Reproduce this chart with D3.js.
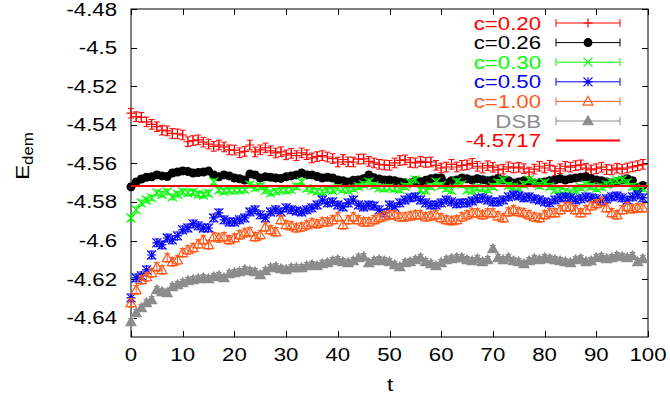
<!DOCTYPE html>
<html>
<head>
<meta charset="utf-8">
<script src="https://cdn.jsdelivr.net/npm/d3@7"></script>
<style>
  html, body { margin: 0; padding: 0; background: #fff; }
  svg { display: block; }
  text { font-family: "Liberation Sans", Arial, Helvetica, sans-serif; }
</style>
</head>
<body>
<svg id="chart" width="670" height="400"></svg>
<script>
// ---------------- data ----------------
const tValues = d3.range(0, 100); // t = 0..99

const c020 = [
 -4.5340,-4.5358,-4.5362,-4.5385,-4.5398,-4.5410,-4.5428,-4.5432,-4.5445,-4.5447,
 -4.5453,-4.5488,-4.5482,-4.5478,-4.5490,-4.5500,-4.5512,-4.5505,-4.5515,-4.5530,
 -4.5531,-4.5545,-4.5538,-4.5505,-4.5541,-4.5530,-4.5520,-4.5535,-4.5546,-4.5540,
 -4.5556,-4.5548,-4.5560,-4.5546,-4.5555,-4.5572,-4.5565,-4.5560,-4.5567,-4.5575,
 -4.5593,-4.5580,-4.5592,-4.5593,-4.5578,-4.5577,-4.5590,-4.5598,-4.5605,-4.5608,
 -4.5610,-4.5598,-4.5585,-4.5582,-4.5595,-4.5598,-4.5590,-4.5595,-4.5593,-4.5610,
 -4.5624,-4.5619,-4.5605,-4.5619,-4.5610,-4.5608,-4.5600,-4.5615,-4.5624,-4.5612,
 -4.5620,-4.5634,-4.5630,-4.5618,-4.5624,-4.5620,-4.5628,-4.5645,-4.5630,-4.5615,
 -4.5624,-4.5610,-4.5640,-4.5628,-4.5615,-4.5620,-4.5612,-4.5608,-4.5625,-4.5634,
 -4.5628,-4.5620,-4.5632,-4.5634,-4.5625,-4.5630,-4.5624,-4.5618,-4.5612,-4.5605
];
const c026 = [
 -4.5722,-4.5696,-4.5681,-4.5672,-4.5670,-4.5660,-4.5665,-4.5668,-4.5650,-4.5645,
 -4.5639,-4.5642,-4.5650,-4.5648,-4.5645,-4.5640,-4.5660,-4.5670,-4.5660,-4.5665,
 -4.5676,-4.5680,-4.5686,-4.5655,-4.5660,-4.5676,-4.5670,-4.5672,-4.5676,-4.5678,
 -4.5670,-4.5665,-4.5660,-4.5650,-4.5660,-4.5660,-4.5668,-4.5676,-4.5672,-4.5676,
 -4.5686,-4.5690,-4.5696,-4.5688,-4.5686,-4.5680,-4.5660,-4.5675,-4.5681,-4.5686,
 -4.5686,-4.5690,-4.5696,-4.5700,-4.5702,-4.5690,-4.5695,-4.5688,-4.5680,-4.5676,
 -4.5676,-4.5702,-4.5690,-4.5686,-4.5676,-4.5680,-4.5686,-4.5680,-4.5685,-4.5690,
 -4.5686,-4.5680,-4.5686,-4.5690,-4.5702,-4.5696,-4.5690,-4.5696,-4.5702,-4.5700,
 -4.5696,-4.5690,-4.5686,-4.5680,-4.5686,-4.5680,-4.5676,-4.5672,-4.5670,-4.5680,
 -4.5686,-4.5690,-4.5696,-4.5702,-4.5696,-4.5686,-4.5680,-4.5690,-4.5727,-4.5715
];
const c030 = [
 -4.5883,-4.5841,-4.5805,-4.5790,-4.5779,-4.5753,-4.5760,-4.5748,-4.5774,-4.5760,
 -4.5748,-4.5753,-4.5750,-4.5760,-4.5764,-4.5755,-4.5696,-4.5738,-4.5745,-4.5738,
 -4.5740,-4.5738,-4.5735,-4.5712,-4.5727,-4.5720,-4.5740,-4.5753,-4.5745,-4.5738,
 -4.5740,-4.5735,-4.5720,-4.5696,-4.5730,-4.5738,-4.5745,-4.5748,-4.5738,-4.5740,
 -4.5727,-4.5735,-4.5740,-4.5730,-4.5720,-4.5710,-4.5696,-4.5715,-4.5727,-4.5730,
 -4.5727,-4.5730,-4.5735,-4.5720,-4.5700,-4.5686,-4.5738,-4.5740,-4.5720,-4.5696,
 -4.5715,-4.5730,-4.5740,-4.5696,-4.5710,-4.5738,-4.5740,-4.5727,-4.5730,-4.5735,
 -4.5720,-4.5700,-4.5686,-4.5715,-4.5722,-4.5727,-4.5710,-4.5686,-4.5700,-4.5715,
 -4.5702,-4.5720,-4.5738,-4.5740,-4.5745,-4.5753,-4.5740,-4.5725,-4.5712,-4.5720,
 -4.5730,-4.5722,-4.5710,-4.5700,-4.5690,-4.5686,-4.5700,-4.5720,-4.5738,-4.5730
];
const c050 = [
 -4.6297,-4.6194,-4.6183,-4.6152,-4.6075,-4.6012,-4.6023,-4.5987,-4.5997,-4.5976,
 -4.5945,-4.5935,-4.5914,-4.5924,-4.5935,-4.5935,-4.5883,-4.5857,-4.5893,-4.5904,
 -4.5904,-4.5893,-4.5883,-4.5852,-4.5841,-4.5867,-4.5883,-4.5852,-4.5841,-4.5852,
 -4.5831,-4.5841,-4.5847,-4.5852,-4.5841,-4.5831,-4.5816,-4.5790,-4.5805,-4.5800,
 -4.5816,-4.5826,-4.5805,-4.5790,-4.5816,-4.5826,-4.5816,-4.5821,-4.5841,-4.5857,
 -4.5816,-4.5826,-4.5805,-4.5790,-4.5779,-4.5774,-4.5790,-4.5805,-4.5816,-4.5816,
 -4.5805,-4.5790,-4.5800,-4.5810,-4.5805,-4.5805,-4.5795,-4.5784,-4.5779,-4.5790,
 -4.5800,-4.5800,-4.5790,-4.5774,-4.5764,-4.5769,-4.5779,-4.5774,-4.5784,-4.5790,
 -4.5800,-4.5805,-4.5790,-4.5779,-4.5774,-4.5779,-4.5790,-4.5784,-4.5774,-4.5779,
 -4.5784,-4.5795,-4.5784,-4.5774,-4.5769,-4.5779,-4.5790,-4.5774,-4.5764,-4.5779
];
const c100 = [
 -4.6323,-4.6256,-4.6204,-4.6189,-4.6168,-4.6137,-4.6152,-4.6090,-4.6111,-4.6101,
 -4.6064,-4.6049,-4.6038,-4.6018,-4.5997,-4.6023,-4.5981,-4.5987,-4.5981,-4.5997,
 -4.5987,-4.5971,-4.5961,-4.5955,-4.5981,-4.5971,-4.5930,-4.5945,-4.5955,-4.5893,
 -4.5919,-4.5924,-4.5935,-4.5930,-4.5919,-4.5909,-4.5914,-4.5904,-4.5904,-4.5893,
 -4.5878,-4.5919,-4.5893,-4.5878,-4.5893,-4.5904,-4.5904,-4.5893,-4.5883,-4.5873,
 -4.5867,-4.5867,-4.5878,-4.5878,-4.5873,-4.5867,-4.5867,-4.5878,-4.5873,-4.5867,
 -4.5883,-4.5893,-4.5898,-4.5893,-4.5878,-4.5867,-4.5857,-4.5857,-4.5867,-4.5857,
 -4.5857,-4.5873,-4.5883,-4.5852,-4.5841,-4.5852,-4.5857,-4.5867,-4.5878,-4.5883,
 -4.5867,-4.5857,-4.5857,-4.5841,-4.5826,-4.5826,-4.5841,-4.5857,-4.5841,-4.5821,
 -4.5810,-4.5800,-4.5831,-4.5857,-4.5867,-4.5841,-4.5826,-4.5836,-4.5831,-4.5831
];
const dsb = [
 -4.6422,-4.6375,-4.6349,-4.6323,-4.6308,-4.6256,-4.6266,-4.6271,-4.6240,-4.6230,
 -4.6220,-4.6209,-4.6204,-4.6199,-4.6194,-4.6199,-4.6189,-4.6183,-4.6194,-4.6173,
 -4.6168,-4.6163,-4.6152,-4.6158,-4.6163,-4.6178,-4.6158,-4.6142,-4.6137,-4.6147,
 -4.6152,-4.6142,-4.6142,-4.6142,-4.6132,-4.6126,-4.6132,-4.6121,-4.6116,-4.6106,
 -4.6101,-4.6111,-4.6116,-4.6106,-4.6090,-4.6085,-4.6116,-4.6106,-4.6101,-4.6106,
 -4.6111,-4.6126,-4.6137,-4.6116,-4.6111,-4.6101,-4.6090,-4.6111,-4.6121,-4.6132,
 -4.6116,-4.6101,-4.6095,-4.6090,-4.6090,-4.6101,-4.6106,-4.6095,-4.6111,-4.6101,
 -4.6044,-4.6090,-4.6101,-4.6090,-4.6106,-4.6111,-4.6121,-4.6106,-4.6095,-4.6101,
 -4.6090,-4.6095,-4.6101,-4.6106,-4.6111,-4.6116,-4.6101,-4.6095,-4.6111,-4.6106,
 -4.6090,-4.6085,-4.6095,-4.6090,-4.6080,-4.6085,-4.6090,-4.6080,-4.6111,-4.6095
];

// one error estimate per series (energy units)
const seriesErrors = [0.0025, 0.0015, 0.0015, 0.0020, 0.0022, 0.0018];
const seriesLabels = ["c=0.20", "c=0.26", "c=0.30", "c=0.50", "c=1.00", "DSB"];
const seriesColors = ["#ff0000", "#000000", "#00ff00", "#0000ff", "#ff5a1a", "#8c8c8c"];
const seriesMarkers = ["plus", "circle", "cross", "star", "triangle", "filledTriangle"];
const seriesValues = [c020, c026, c030, c050, c100, dsb];

const fitValue = -4.5717;
const fitLabel = "-4.5717";
const fitColor = "#ff0000";

const xTicks = [0, 10, 20, 30, 40, 50, 60, 70, 80, 90, 100];
const yTicks = [-4.48, -4.50, -4.52, -4.54, -4.56, -4.58, -4.60, -4.62, -4.64];
const yTickLabels = ["-4.48", "-4.5", "-4.52", "-4.54", "-4.56", "-4.58", "-4.6", "-4.62", "-4.64"];
const xDomain = [0, 100];
const yDomain = [-4.65, -4.48];

// ---------------- layout ----------------
const L = 131, R = 648, T = 9, B = 337;
const STRETCH = 1.2;
const FONT = 18.5;

const svg = d3.select("#chart");
const x = d3.scaleLinear().domain(xDomain).range([L, R]);
const y = d3.scaleLinear().domain(yDomain).range([B, T]);

function stretchedText(g, tx, ty, str, opts = {}) {
  return g.append("text")
    .attr("transform", `translate(${tx},${ty}) scale(${STRETCH},1)`)
    .attr("font-size", opts.size || FONT)
    .attr("fill", opts.fill || "#000")
    .attr("text-anchor", opts.anchor || "start")
    .text(str);
}

// markers
const S = 4.5;
function markerPath(type) {
  const s = S;
  switch (type) {
    case "plus": return `M${-s},0H${s}M0,${-s}V${s}`;
    case "cross": return `M${-s},${-s}L${s},${s}M${-s},${s}L${s},${-s}`;
    case "star": return `M${-s},0H${s}M0,${-s}V${s}M${-s},${-s}L${s},${s}M${-s},${s}L${s},${-s}`;
    case "triangle":
    case "filledTriangle": {
      const h = 5;
      return `M0,${-h}L${h},${h * 0.75}L${-h},${h * 0.75}Z`;
    }
    default: return "";
  }
}
function drawMarker(g, type, cx, cy, color) {
  if (type === "circle") {
    g.append("circle").attr("cx", cx).attr("cy", cy).attr("r", 4.5).attr("fill", color);
  } else {
    const filled = type === "filledTriangle";
    g.append("path").attr("transform", `translate(${cx},${cy})`)
      .attr("d", markerPath(type))
      .attr("fill", filled ? color : "none")
      .attr("stroke", color).attr("stroke-width", 1.2);
  }
}

// ---------------- axes / frame ----------------
const axes = svg.append("g");
axes.append("rect").attr("x", L).attr("y", T).attr("width", R - L).attr("height", B - T)
  .attr("fill", "none").attr("stroke", "#000").attr("stroke-width", 1);

const tickLen = 6;
xTicks.forEach(v => {
  const px = Math.round(x(v)) + 0.5;
  axes.append("line").attr("x1", px).attr("x2", px).attr("y1", B).attr("y2", B - tickLen).attr("stroke", "#000");
  axes.append("line").attr("x1", px).attr("x2", px).attr("y1", T).attr("y2", T + tickLen).attr("stroke", "#000");
  stretchedText(axes, x(v), 361, String(v), { anchor: "middle" });
});
yTicks.forEach((v, i) => {
  const py = Math.round(y(v)) + 0.5;
  axes.append("line").attr("x1", L).attr("x2", L + tickLen).attr("y1", py).attr("y2", py).attr("stroke", "#000");
  axes.append("line").attr("x1", R).attr("x2", R - tickLen).attr("y1", py).attr("y2", py).attr("stroke", "#000");
  stretchedText(axes, 117, y(v) + 6.5, yTickLabels[i], { anchor: "end" });
});

// axis titles
stretchedText(axes, 390, 391, "t", { anchor: "middle" });
const yl = axes.append("text")
  .attr("transform", `translate(29,156) rotate(-90) scale(${STRETCH},1)`)
  .attr("font-size", FONT).attr("text-anchor", "middle");
yl.append("tspan").text("E");
yl.append("tspan").attr("font-size", 14).attr("dy", 4).text("dem");

// ---------------- series ----------------
const plot = svg.append("g");
seriesValues.forEach((vals, si) => {
  const g = plot.append("g");
  const color = seriesColors[si];
  const err = seriesErrors[si];
  vals.forEach((v, i) => {
    const cx = x(tValues[i]);
    const y1 = y(v - err), y2 = y(v + err);
    g.append("path")
      .attr("d", `M${cx},${y1}V${y2}M${cx - 3},${y1}H${cx + 3}M${cx - 3},${y2}H${cx + 3}`)
      .attr("stroke", color).attr("stroke-width", 1).attr("fill", "none");
    drawMarker(g, seriesMarkers[si], cx, y(v), color);
  });
});

// fit line
plot.append("line")
  .attr("x1", x(xDomain[0])).attr("x2", x(xDomain[1]))
  .attr("y1", y(fitValue)).attr("y2", y(fitValue))
  .attr("stroke", fitColor).attr("stroke-width", 2);

// ---------------- legend ----------------
const legend = svg.append("g");
const legY0 = 23, legDY = 19.6;
const sx1 = 556, sx2 = 620, smid = 588, textX = 541;
seriesLabels.forEach((lab, i) => {
  const cy = legY0 + i * legDY;
  const color = seriesColors[i];
  stretchedText(legend, textX, cy + 6.5, lab, { anchor: "end", fill: color });
  legend.append("path")
    .attr("d", `M${sx1},${cy}H${sx2}M${sx1},${cy - 4}V${cy + 4}M${sx2},${cy - 4}V${cy + 4}`)
    .attr("stroke", color).attr("stroke-width", 1).attr("fill", "none");
  drawMarker(legend, seriesMarkers[i], smid, cy, color);
});
{
  const cy = legY0 + seriesLabels.length * legDY;
  stretchedText(legend, textX, cy + 6.5, fitLabel, { anchor: "end", fill: fitColor });
  legend.append("line").attr("x1", sx1).attr("x2", sx2).attr("y1", cy).attr("y2", cy)
    .attr("stroke", fitColor).attr("stroke-width", 2);
}
</script>
</body>
</html>
